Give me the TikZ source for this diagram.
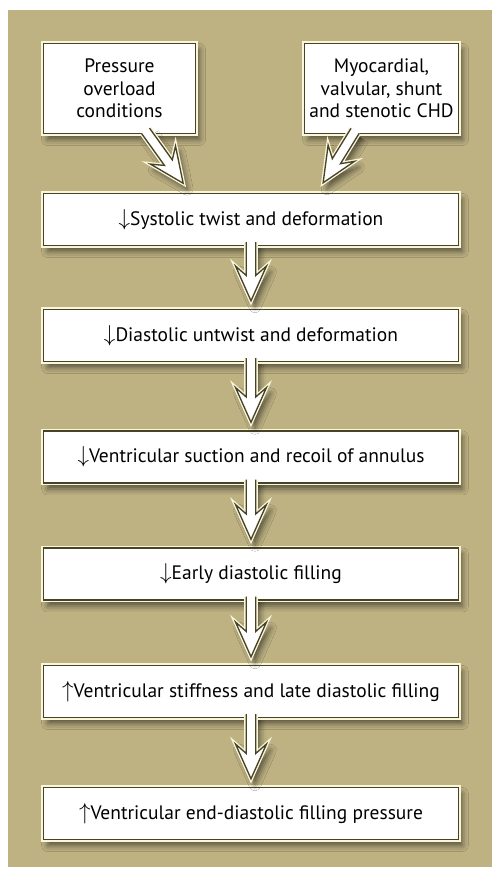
\documentclass[tikz,border=0pt]{standalone}
\usepackage{fontspec}
\setmainfont{PT Sans}
\usetikzlibrary{calc,shadows.blur}

\definecolor{khaki}{RGB}{190,178,131}
\definecolor{mossline}{RGB}{70,68,36}
\definecolor{cream}{RGB}{250,246,220}

\newcommand{\dn}{{\fontsize{17}{17}\selectfont$\downarrow$}}
\newcommand{\upp}{{\fontsize{17}{17}\selectfont$\uparrow$}}

\begin{document}
\begin{tikzpicture}[x=0.75pt,y=0.75pt,
  softshadow/.style={blur shadow={shadow xshift=3pt,shadow yshift=-4.5pt,shadow blur radius=4.5pt,shadow opacity=55}},
  box/.style={softshadow,preaction={draw=cream,line width=3.4pt},draw=mossline,line width=1.1pt,fill=white,
    minimum width=311pt,minimum height=39pt,inner sep=2pt,font=\fontsize{14.6}{17}\selectfont},
  topbox/.style={box,minimum width=114pt,minimum height=67.5pt,align=center},
  fatarrow/.style={softshadow,preaction={draw=cream,line width=3pt},draw=mossline,line width=1pt,fill=white,
    to path={($(\tikztostart)!-3pt!(\tikztotarget)!3.6pt!90:(\tikztotarget)$)
      -- ($(\tikztotarget)!#1+19pt!(\tikztostart)!3.6pt!-90:(\tikztostart)$)
      -- ($(\tikztotarget)!#1+26pt!(\tikztostart)!11.6pt!-90:(\tikztostart)$)
      -- ($(\tikztotarget)!#1!(\tikztostart)$)
      -- ($(\tikztotarget)!#1+26pt!(\tikztostart)!11.6pt!90:(\tikztostart)$)
      -- ($(\tikztotarget)!#1+19pt!(\tikztostart)!3.6pt!90:(\tikztostart)$)
      -- ($(\tikztostart)!-3pt!(\tikztotarget)!3.6pt!-90:(\tikztotarget)$)}},
  fatarrow/.default=6pt]

  \useasboundingbox (0,0) rectangle (496,869);
  \fill[khaki] (8,2) rectangle (492,859);

  \node[topbox] (pl) at (119.5,780.5) {Pressure\\overload\\conditions};
  \node[topbox,minimum width=115.5pt] (pr) at (381.5,780.5) {Myocardial,\\valvular, shunt\\and stenotic CHD};

  \node[box] (b1) at (251,649.5) {\dn Systolic twist and deformation};
  \node[box] (b2) at (251,533.5) {\dn Diastolic untwist and deformation};
  \node[box] (b3) at (251,412) {\dn Ventricular suction and recoil of annulus};
  \node[box] (b4) at (251,295) {\dn Early diastolic filling};
  \node[box] (b5) at (251,177.5) {\upp Ventricular stiffness and late diastolic filling};
  \node[box] (b6) at (251,55.5) {\upp Ventricular end-diastolic filling pressure};

  \coordinate (pl-foot) at ($(pl.south)+(28.5,0)$);
  \coordinate (pr-foot) at ($(pr.south)+(-28.5,0)$);
  \coordinate (b1-left) at ($(b1.north)+(-61,0)$);
  \coordinate (b1-right) at ($(b1.north)+(66,0)$);

  \draw[fatarrow=8.8pt] (pl-foot) to (b1-left);
  \draw[fatarrow=8.8pt] (pr-foot) to (b1-right);
  \foreach \a/\b in {b1/b2,b2/b3,b3/b4,b4/b5,b5/b6}
    \draw[fatarrow] (\a.south) to (\b.north);
\end{tikzpicture}
\end{document}
